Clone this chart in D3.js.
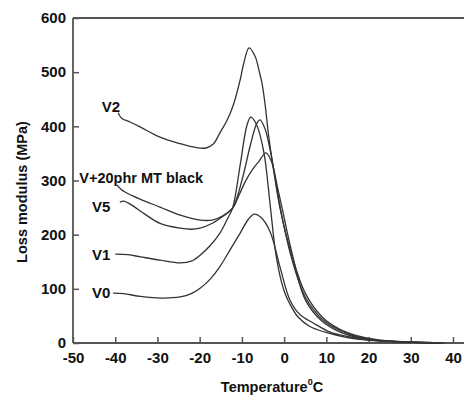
<!DOCTYPE html>
<html>
<head>
<meta charset="utf-8">
<script src="https://cdn.jsdelivr.net/npm/d3@7/dist/d3.min.js"></script>
<style>
  html, body { margin: 0; padding: 0; background: #fff; }
  svg { display: block; }
  text { font-family: "Liberation Sans", Arial, sans-serif; font-weight: bold; fill: #111; }
</style>
</head>
<body>
<svg id="chart" width="464" height="399"></svg>
<script>
// ---- data ----
const xTicks = [-50, -40, -30, -20, -10, 0, 10, 20, 30, 40];
const yTicks = [0, 100, 200, 300, 400, 500, 600];

const v0T = [-40.5, -38, -34, -29, -24.6, -22, -19.9, -17.5, -15.2, -12.8, -10.4, -8.5, -7.1, -5.5, -3.3, -1, 1.4, 3.8, 6.9, 10.9, 15, 19, 25, 31, 37];
const v0V = [92, 91, 86, 83, 85, 91, 101, 118, 141, 172, 203, 228, 238, 232, 205, 141, 79, 52, 37, 20, 12, 7, 3, 1.5, 0];

const v1T = [-40, -37, -34, -29.4, -24.6, -22, -19.9, -17.5, -15.2, -13.5, -12.2, -10.4, -8.8, -7.9, -7, -6, -5, -4.5, -3.3, -2.1, -1, 0.2, 1.5, 3.3, 6, 9.7, 15, 20, 27, 35];
const v1V = [164, 163, 159, 153, 148, 151, 162, 180, 203, 228, 249, 329, 402, 417, 410, 392, 360, 338, 255, 172, 125, 92, 70, 48, 31, 20, 10, 5, 2, 0];

const v5T = [-38.9, -38, -36, -33, -29.4, -24.6, -22, -19.9, -17, -14.5, -12.2, -10, -8, -6.5, -5.7, -4.5, -3.3, -2, -0.5, 1.9, 5, 9, 13, 17, 22, 28, 35];
const v5V = [260, 262, 254, 238, 221, 212, 210, 212, 221, 234, 249, 300, 365, 405, 412, 395, 356, 300, 233, 153, 85, 44, 24, 12, 5, 2, 0];

const vmtT = [-39.6, -38.5, -36, -33, -29.4, -24.6, -19.9, -17, -14.5, -12.2, -10.5, -9.2, -7.5, -6, -4.3, -3, -1.5, -0.5, 1.9, 5, 9, 13, 17, 22, 28, 36];
const vmtV = [292, 283, 272, 262, 251, 236, 227, 227, 235, 249, 276, 298, 320, 335, 351, 335, 285, 250, 165, 80, 40, 21, 11, 5, 2, 0];

const v2T = [-39.3, -38.5, -36.5, -34.1, -29.4, -24.6, -21, -18.5, -16.7, -15.2, -13.6, -12, -10.4, -9.6, -8.3, -6.8, -6, -5.2, -4.5, -3.7, -2.5, -1, 1.9, 5, 9, 13, 17, 22, 28, 34, 38];
const v2V = [425, 415, 408, 399, 380, 368, 361, 360, 368, 388, 410, 440, 486, 515, 545, 528, 505, 478, 440, 385, 320, 250, 160, 92, 48, 26, 14, 6, 2.5, 1, 0];

const seriesNames = ["V0", "V1", "V5", "V+20phr MT black", "V2"];
const seriesT = [v0T, v1T, v5T, vmtT, v2T];
const seriesV = [v0V, v1V, v5V, vmtV, v2V];
// label anchor points (data coords: temperature, value)
const labelT = [-45.5, -45.5, -45.5, -48.5, -43.2];
const labelV = [83, 154, 242, 296, 427];

// ---- drawing ----
const svg = d3.select("#chart");
const x = d3.scaleLinear().domain([-50, 40]).range([73, 453]);
const y = d3.scaleLinear().domain([0, 600]).range([343, 18]);
const axisColor = "#555";
const fmt = d => String(d);

// x axis
const gx = svg.append("g").attr("transform", `translate(0,${y(0)})`)
  .call(d3.axisBottom(x).tickValues(xTicks).tickSize(-6).tickSizeOuter(0).tickPadding(9).tickFormat(fmt));
gx.select(".domain").remove();
gx.selectAll(".tick line").attr("stroke", axisColor).attr("stroke-width", 1.5);
gx.selectAll(".tick text").attr("font-size", 15).attr("fill", "#111")
  .attr("font-family", "Liberation Sans, Arial, sans-serif").attr("font-weight", "bold");

// y axis
const gy = svg.append("g").attr("transform", `translate(${x(-50)},0)`)
  .call(d3.axisLeft(y).tickValues(yTicks).tickSize(-6).tickSizeOuter(0).tickPadding(7).tickFormat(fmt));
gy.select(".domain").remove();
gy.selectAll(".tick line").attr("stroke", axisColor).attr("stroke-width", 1.5);
gy.selectAll(".tick text").attr("font-size", 15).attr("fill", "#111")
  .attr("font-family", "Liberation Sans, Arial, sans-serif").attr("font-weight", "bold");

// frame lines (left, bottom, top)
svg.append("line").attr("x1", x(-50)).attr("x2", x(-50)).attr("y1", y(0)).attr("y2", y(600))
  .attr("stroke", axisColor).attr("stroke-width", 1.8);
svg.append("line").attr("x1", x(-50)).attr("x2", 464).attr("y1", y(0)).attr("y2", y(0))
  .attr("stroke", axisColor).attr("stroke-width", 1.8);
svg.append("line").attr("x1", x(-50)).attr("x2", 464).attr("y1", y(600)).attr("y2", y(600))
  .attr("stroke", axisColor).attr("stroke-width", 1.8);

// curves
const line = d3.line().x(d => x(d[0])).y(d => y(d[1])).curve(d3.curveCatmullRom.alpha(0.5));
seriesT.forEach((ts, i) => {
  const pts = ts.map((t, j) => [t, seriesV[i][j]]);
  svg.append("path").attr("d", line(pts)).attr("fill", "none")
    .attr("stroke", "#333").attr("stroke-width", 1.3);
});

// series labels
seriesNames.forEach((n, i) => {
  svg.append("text").attr("x", x(labelT[i])).attr("y", y(labelV[i]))
    .attr("font-size", i === 3 ? 14.5 : 15).text(n);
});

// axis titles
svg.append("text").attr("transform", `translate(27,${192}) rotate(-90)`)
  .attr("text-anchor", "middle").attr("font-size", 14.5).text("Loss modulus (MPa)");
const xt = svg.append("text").attr("x", 272).attr("y", 392).attr("text-anchor", "middle").attr("font-size", 14.5);
xt.append("tspan").text("Temperature");
xt.append("tspan").attr("font-size", 9).attr("dy", -7).text("0");
xt.append("tspan").attr("dy", 7).text("C");
</script>
</body>
</html>
